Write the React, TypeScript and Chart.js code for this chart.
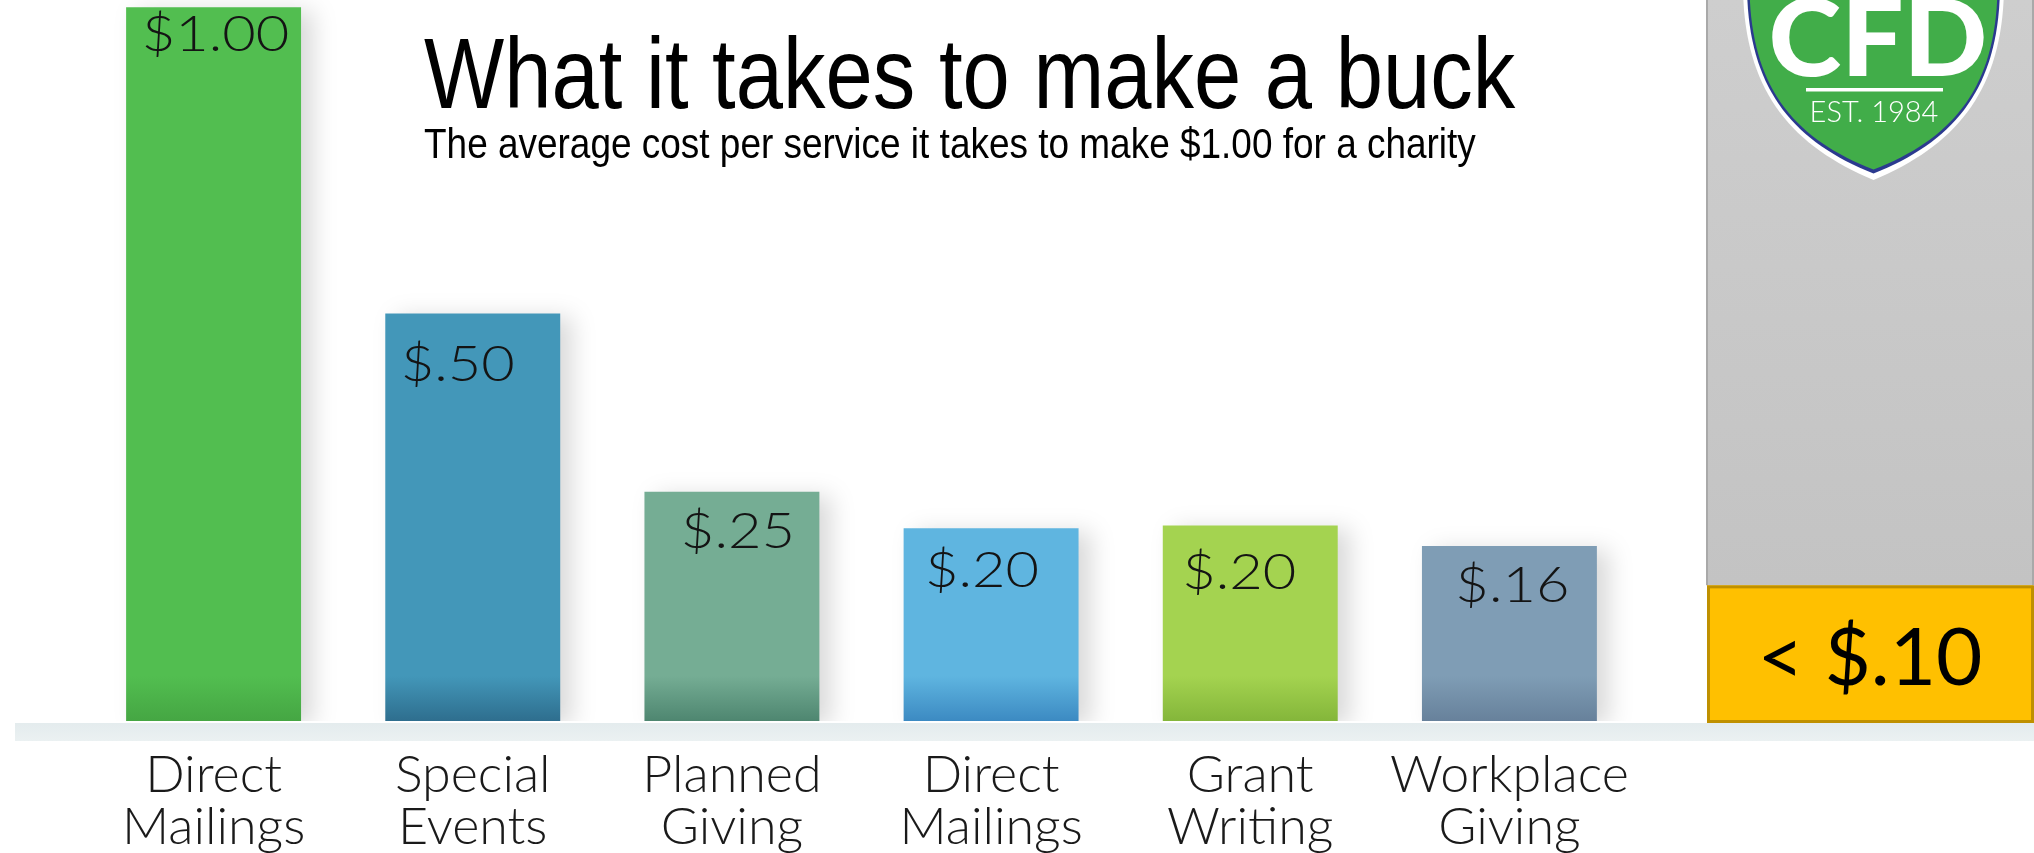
import { useEffect, useRef } from "react";
import { Chart, registerables } from "chart.js";

Chart.register(...registerables);

// ---- data ----
const categories: string[][] = [
  ["Direct", "Mailings"],
  ["Special", "Events"],
  ["Planned", "Giving"],
  ["Direct", "Mailings"],
  ["Grant", "Writing"],
  ["Workplace", "Giving"],
];
// bar heights as drawn in the picture (relative to the $1.00 bar)
const barValues = [1.0, 0.571, 0.321, 0.27, 0.274, 0.245];
const valueLabels = ["$1.00", "$.50", "$.25", "$.20", "$.20", "$.16"];
const barColors = ["#52BE50", "#4397B9", "#75AD94", "#5FB5E0", "#A4D350", "#7F9DB5"];
const barShades = ["#45A643", "#2E6E8E", "#4E8670", "#3C8AC2", "#84B63A", "#67819B"];
const titleText = "What it takes to make a buck";
const subtitleText = "The average cost per service it takes to make $1.00 for a charity";
const cfdValue = 0.19;
const cfdLabel = "< $.10";
const logoText = "CFD";
const logoSub = "EST. 1984";
const yMin = 0;
const yMax = 1.01;

// ---- styling (label placement inside bars, px) ----
const labelShiftX = [2, -15, 6, -9, -11, 3];
const labelDrop = [44, 68, 56, 59, 64, 56];

const W = 2034;
const H = 853;

function shieldPath(ctx: CanvasRenderingContext2D, inset: number) {
  const l = 1743 + inset;
  const r = 2004 - inset;
  const by = 180 - inset * 1.6;
  const cx = 1873.5;
  ctx.beginPath();
  ctx.moveTo(l, -10);
  ctx.bezierCurveTo(l + 2, 90 - inset * 0.3, 1790 + inset * 0.6, 145 - inset, cx, by);
  ctx.bezierCurveTo(1957 - inset * 0.6, 145 - inset, r - 2, 90 - inset * 0.3, r, -10);
  ctx.closePath();
}

function scaledText(ctx: CanvasRenderingContext2D, text: string, x: number, y: number, sx: number) {
  ctx.save();
  ctx.translate(x, y);
  ctx.scale(sx, 1);
  ctx.fillText(text, 0, 0);
  ctx.restore();
}

const decorPlugin = {
  id: "decor",
  beforeDatasetsDraw(chart: any) {
    const ctx: CanvasRenderingContext2D = chart.ctx;
    const y0 = chart.scales.y.getPixelForValue(0);
    // baseline band
    ctx.save();
    const g = ctx.createLinearGradient(0, y0, 0, y0 + 20);
    g.addColorStop(0, "#E3EBED");
    g.addColorStop(1, "#EBF1F2");
    ctx.fillStyle = g;
    ctx.fillRect(15, y0 + 2, W - 15, 18);
    ctx.restore();
    // shadow for bars
    ctx.save();
    ctx.shadowColor = "rgba(0,0,0,0.15)";
    ctx.shadowBlur = 22;
    ctx.shadowOffsetX = 12;
    ctx.shadowOffsetY = 4;
  },
  afterDatasetsDraw(chart: any) {
    const ctx: CanvasRenderingContext2D = chart.ctx;
    ctx.restore();
    const meta = chart.getDatasetMeta(0);
    ctx.save();
    ctx.fillStyle = "#141414";
    ctx.font = "300 49px Lato, 'Open Sans', sans-serif";
    ctx.textAlign = "center";
    ctx.textBaseline = "alphabetic";
    meta.data.forEach((el: any, i: number) => {
      scaledText(ctx, valueLabels[i], el.x + labelShiftX[i], el.y + labelDrop[i], 1.18);
    });
    ctx.restore();
  },
  afterDraw(chart: any) {
    const ctx: CanvasRenderingContext2D = chart.ctx;
    const yS = chart.scales.y;
    const y0 = yS.getPixelForValue(0);
    const yBox = yS.getPixelForValue(cfdValue);
    const px = 1707;
    ctx.save();
    // gray panel
    const pg = ctx.createLinearGradient(0, 0, 0, yBox);
    pg.addColorStop(0, "#CECECE");
    pg.addColorStop(1, "#C3C3C3");
    ctx.fillStyle = pg;
    ctx.fillRect(px, 0, W - px, yBox);
    ctx.strokeStyle = "#A9A9A9";
    ctx.lineWidth = 2;
    ctx.beginPath();
    ctx.moveTo(px, 0);
    ctx.lineTo(px, yBox);
    ctx.moveTo(W - 1, 0);
    ctx.lineTo(W - 1, yBox);
    ctx.stroke();
    // yellow box
    ctx.fillStyle = "#FFC000";
    ctx.fillRect(px, yBox, W - px - 1, y0 + 2 - yBox);
    ctx.strokeStyle = "#BF9000";
    ctx.lineWidth = 3;
    ctx.strokeRect(px + 1.5, yBox + 1.5, W - px - 3, y0 + 2 - yBox - 3);
    ctx.fillStyle = "#000";
    ctx.font = "400 80px Lato, 'Open Sans', sans-serif";
    ctx.textAlign = "center";
    ctx.textBaseline = "alphabetic";
    ctx.fillText(cfdLabel, 1870, 685);
    // shield
    shieldPath(ctx, 0);
    ctx.fillStyle = "#FFFFFF";
    ctx.fill();
    shieldPath(ctx, 4);
    ctx.fillStyle = "#2B3A8F";
    ctx.fill();
    shieldPath(ctx, 6.5);
    ctx.fillStyle = "#41AD49";
    ctx.fill();
    ctx.fillStyle = "#FFFFFF";
    ctx.font = "900 106px Lato, 'Open Sans', sans-serif";
    ctx.textAlign = "center";
    scaledText(ctx, logoText, 1878, 76, 1.04);
    ctx.fillRect(1806, 88, 137, 3.5);
    ctx.font = "300 29px Lato, 'Open Sans', sans-serif";
    ctx.fillText(logoSub, 1874, 122);
    // titles (horizontally condensed, as in the picture)
    ctx.fillStyle = "#000";
    ctx.textAlign = "left";
    ctx.font = "400 100px 'Liberation Sans', Arial, sans-serif";
    scaledText(ctx, titleText, 424, 108, 0.85);
    ctx.font = "400 42px 'Liberation Sans', Arial, sans-serif";
    scaledText(ctx, subtitleText, 424, 158, 0.88);
    ctx.restore();
  },
};

export default function App() {
  const ref = useRef<HTMLCanvasElement | null>(null);
  useEffect(() => {
    if (!ref.current) return;
    const chart = new Chart(ref.current, {
      type: "bar",
      data: {
        labels: categories,
        datasets: [
          {
            data: barValues,
            backgroundColor: (c: any) => {
              const i = c.dataIndex ?? 0;
              const area = c.chart.chartArea;
              if (!area) return barColors[i];
              const g = c.chart.ctx.createLinearGradient(0, area.bottom - 45, 0, area.bottom);
              g.addColorStop(0, barColors[i]);
              g.addColorStop(1, barShades[i]);
              return g;
            },
            borderWidth: 0,
            barPercentage: 0.675,
            categoryPercentage: 1.0,
          },
        ],
      },
      options: {
        responsive: false,
        maintainAspectRatio: false,
        animation: false,
        layout: { padding: { left: 84, right: 395, top: 0, bottom: 0 } },
        plugins: {
          legend: { display: false },
          tooltip: { enabled: false },
          title: { display: false },
        },
        scales: {
          x: {
            grid: { display: false, drawTicks: false },
            border: { display: false },
            afterFit: (s: any) => {
              s.height = 132;
            },
            ticks: {
              autoSkip: false,
              maxRotation: 0,
              color: "#1A1A1A",
              padding: 28,
              font: { family: "Lato, 'Open Sans', sans-serif", size: 52, weight: "300", lineHeight: 1.0 },
            },
          },
          y: { display: false, min: yMin, max: yMax },
        },
      },
      plugins: [decorPlugin],
    });
    const fonts: any = (document as any).fonts;
    if (fonts && fonts.load) {
      Promise.all([
        fonts.load("300 50px Lato"),
        fonts.load("400 50px Lato"),
        fonts.load("900 50px Lato"),
        fonts.load("400 50px 'Liberation Sans'"),
      ]).then(() => chart.update()).catch(() => {});
    }
    return () => chart.destroy();
  }, []);
  return (
    <div style={{ position: "absolute", left: 0, top: 0, width: W, height: H, background: "#fff" }}>
      <canvas ref={ref} width={W} height={H} style={{ display: "block", width: W, height: H }} />
    </div>
  );
}
